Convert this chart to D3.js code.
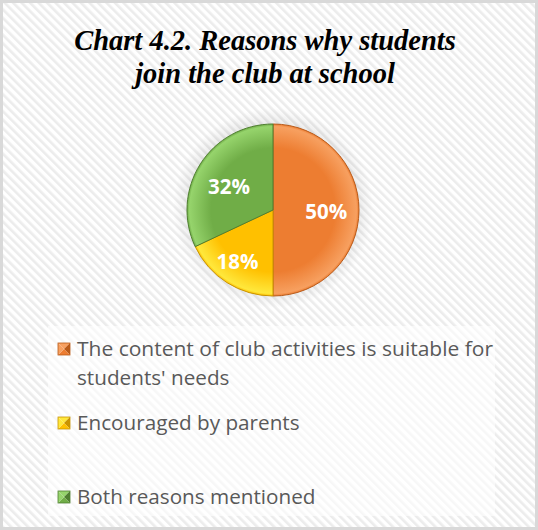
<!DOCTYPE html>
<html><head><meta charset="utf-8">
<script src="https://cdn.jsdelivr.net/npm/d3@7"></script>
<style>html,body{margin:0;padding:0;background:#fff;}svg{display:block;}</style>
</head><body>
<svg id="c" width="538" height="530"></svg>
<script>
const titleLines = ["Chart 4.2. Reasons why students", "join the club at school"];
const categories = ["The content of club activities is suitable for students' needs", "Encouraged by parents", "Both reasons mentioned"];
const legendLines = [["The content of club activities is suitable for", "students' needs"], ["Encouraged by parents"], ["Both reasons mentioned"]];
const values = [50, 18, 32];
const labels = ["50%", "18%", "32%"];
const colors = ["#ed7d31", "#ffc000", "#70ad47"];
const lightColors = ["#f7a060", "#ffe83c", "#96d46c"];
const darkColors = ["#b95a18", "#c99400", "#4f7f30"];

const W = 538, H = 530;
const svg = d3.select("#c");
const defs = svg.append("defs");

// striped background pattern
const pat = defs.append("pattern").attr("id", "stripes").attr("patternUnits", "userSpaceOnUse")
  .attr("width", 6).attr("height", 6).attr("patternTransform", "rotate(-45)");
pat.append("rect").attr("width", 6).attr("height", 6).attr("fill", "#ffffff");
pat.append("rect").attr("width", 2.6).attr("height", 6).attr("fill", "#ececec");

svg.append("rect").attr("x", 0).attr("y", 0).attr("width", W).attr("height", H).attr("fill", "url(#stripes)");
svg.append("rect").attr("x", 1.5).attr("y", 1.5).attr("width", W - 3).attr("height", H - 3)
  .attr("fill", "none").attr("stroke", "#d9d9d9").attr("stroke-width", 3);

// title
const title = svg.append("text").attr("text-anchor", "middle")
  .attr("font-family", "'Liberation Serif','Times New Roman',serif")
  .attr("font-weight", "bold").attr("font-style", "italic").attr("font-size", 28.5).attr("fill", "#000");
titleLines.forEach((t, i) => title.append("tspan").attr("x", 265).attr("y", 50 + i * 33).text(t));

// pie
const cx = 273, cy = 210, r = 86;
const glow = defs.append("radialGradient").attr("id", "glow");
glow.append("stop").attr("offset", "0.75").attr("stop-color", "#000").attr("stop-opacity", 0.12);
glow.append("stop").attr("offset", "1").attr("stop-color", "#000").attr("stop-opacity", 0);
svg.append("circle").attr("cx", cx).attr("cy", cy - 2).attr("r", r + 14).attr("fill", "url(#glow)");

colors.forEach((c, i) => {
  const g = defs.append("radialGradient").attr("id", "sg" + i)
    .attr("gradientUnits", "userSpaceOnUse").attr("cx", 0).attr("cy", 0).attr("r", r);
  g.append("stop").attr("offset", "0").attr("stop-color", c);
  g.append("stop").attr("offset", "0.72").attr("stop-color", c);
  g.append("stop").attr("offset", "0.97").attr("stop-color", lightColors[i]);
  g.append("stop").attr("offset", "1").attr("stop-color", c);
});

const pie = d3.pie().sort(null).value(d => d);
const arcs = pie(values);
const arc = d3.arc().innerRadius(0).outerRadius(r);
const pg = svg.append("g").attr("transform", `translate(${cx},${cy})`);
pg.selectAll("path").data(arcs).join("path")
  .attr("d", arc).attr("fill", (d, i) => `url(#sg${i})`)
  .attr("stroke", (d, i) => darkColors[i]).attr("stroke-width", 1);

const labelArc = d3.arc().innerRadius(r * 0.62).outerRadius(r * 0.62);
const labelOffsets = [[0, 2], [-7, 7], [1, 5]];
pg.selectAll("text").data(arcs).join("text")
  .attr("transform", (d, i) => {
    const p = labelArc.centroid(d);
    return `translate(${p[0] + labelOffsets[i][0]},${p[1] + labelOffsets[i][1]})`;
  })
  .attr("text-anchor", "middle").attr("dy", "0.36em")
  .attr("font-family", "'Open Sans','DejaVu Sans',sans-serif").attr("font-weight", "bold")
  .attr("font-size", 20.5).attr("fill", "#fff").text((d, i) => labels[i]);

// legend
svg.append("rect").attr("x", 48).attr("y", 326).attr("width", 447).attr("height", 190)
  .attr("fill", "#fff").attr("fill-opacity", 0.6);

const legendY = [356, 430, 504];
const lg = svg.append("g");
categories.forEach((cat, i) => {
  const y = legendY[i];
  const mx = 58, my = y - 13, s = 12;
  const tris = [
    [[mx, my], [mx + s, my], [mx + s / 2, my + s / 2]],
    [[mx + s, my], [mx + s, my + s], [mx + s / 2, my + s / 2]],
    [[mx, my + s], [mx + s, my + s], [mx + s / 2, my + s / 2]],
    [[mx, my], [mx, my + s], [mx + s / 2, my + s / 2]]
  ];
  const shades = [lightColors[i], darkColors[i], colors[i], lightColors[i]];
  tris.forEach((t, k) => lg.append("path").attr("d", d3.line()(t) + "Z").attr("fill", shades[k]));
  lg.append("rect").attr("x", mx).attr("y", my).attr("width", s).attr("height", s)
    .attr("fill", "none").attr("stroke", darkColors[i]).attr("stroke-width", 0.8);
  const t = lg.append("text").attr("font-family", "'Open Sans','Lato',sans-serif")
    .attr("font-size", 20.7).attr("fill", "#595959");
  legendLines[i].forEach((line, j) => t.append("tspan").attr("x", 77).attr("y", y + j * 29).text(line));
});

// fit the long legend line width to the reference
lg.selectAll("tspan").each(function () {
  if (this.textContent === legendLines[0][0]) d3.select(this).attr("textLength", 416).attr("lengthAdjust", "spacingAndGlyphs");
});
</script>
</body></html>
